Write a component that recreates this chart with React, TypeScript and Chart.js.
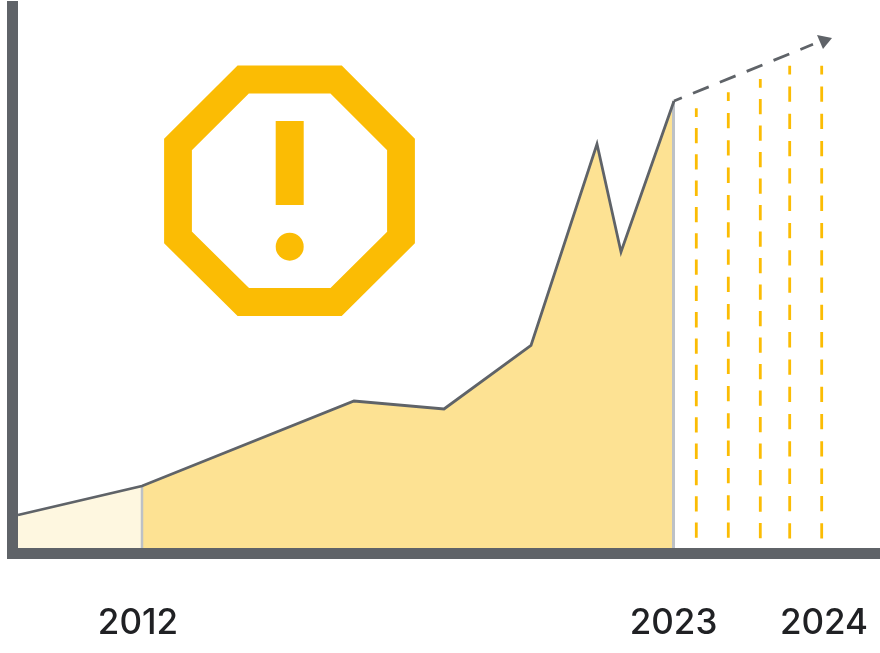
import React, { useEffect, useRef } from "react";
import { Chart, registerables } from "chart.js";

Chart.register(...registerables);

const tickLabels = ["2012", "2023", "2024"];
const tickValues = [138, 673.5, 824];

const trendX = [18, 142, 354, 444, 531, 597, 621, 674];
const trendY = [33, 62, 147, 139, 202.5, 404, 296, 447];

const forecastX = [674, 813];
const forecastY = [447, 503.7];

const arrowX = [817, 832, 823, 817];
const arrowY = [513, 510, 499, 513];

const scenarioX = [696.3, 728.3, 760.3, 789.7, 821.7];
const scenarioTop = [439.7, 455.7, 469, 482.3, 482.3];
const scenarioBottom = 9.5;
const scenarioGap = [11, 12, 11.2, 12, 12];

const yearMarkerX = [142, 673.5];
const yearMarkerTop = [62, 447];

const axisLeftX = [12.5, 12.5];
const axisLeftY = [-11, 547];
const axisBottomX = [7, 880];
const axisBottomY = [-5.5, -5.5];

const octagonX = [290, 336, 401, 401, 336, 243.3, 178, 178, 243.3, 290];
const octagonY = [468.5, 468.5, 403.5, 310.5, 246, 246, 310.5, 403.5, 468.5, 468.5];
const barX = [289.7, 289.7];
const barY = [427, 343];
const dotX = [289.7];
const dotY = [301.3];

const GREY = "#5f6368";
const AMBER = "#fbbc04";

const pts = (xs: number[], ys: number[]) => xs.map((x, i) => ({ x, y: ys[i] }));

export default function App() {
  const ref = useRef<HTMLCanvasElement | null>(null);

  useEffect(() => {
    if (!ref.current) return;
    const line = { pointRadius: 0, tension: 0, fill: false, borderJoinStyle: "miter" as const, borderCapStyle: "butt" as const };
    const chart = new Chart(ref.current, {
      type: "line",
      data: {
        datasets: [
          { label: "axis y", data: pts(axisLeftX, axisLeftY), borderColor: GREY, borderWidth: 11, ...line },
          { label: "axis x", data: pts(axisBottomX, axisBottomY), borderColor: GREY, borderWidth: 11, ...line },
          { label: "warning dot", data: pts(dotX, dotY), showLine: false, pointRadius: 14, pointBorderWidth: 0, pointBackgroundColor: AMBER },
          { label: "warning bar", data: pts(barX, barY), borderColor: AMBER, borderWidth: 28, ...line },
          { label: "warning ring", data: pts(octagonX, octagonY), borderColor: AMBER, borderWidth: 27.8, ...line },
          { label: "arrow", data: pts(arrowX, arrowY), backgroundColor: GREY, borderWidth: 0, pointRadius: 0, tension: 0, fill: "shape" },
          { label: "forecast", data: pts(forecastX, forecastY), borderColor: GREY, borderWidth: 2.8, borderDash: [17, 12], borderDashOffset: 8.5, ...line },
          { label: "trend", data: pts(trendX, trendY), borderColor: GREY, borderWidth: 2.8, ...line },
          ...yearMarkerX.map((x, i) => ({
            label: "year " + i,
            data: pts([x, x], [0, yearMarkerTop[i]]),
            borderColor: "#bdc1c6",
            borderWidth: i === 0 ? 2.5 : 3,
            ...line,
          })),
          ...scenarioX.map((x, i) => ({
            label: "scenario " + i,
            data: pts([x, x], [scenarioTop[i], scenarioBottom]),
            borderColor: AMBER,
            borderWidth: 2.8,
            borderDash: [15.3, scenarioGap[i]],
            borderDashOffset: 6.6,
            ...line,
          })),
          { label: "history", data: pts(trendX.slice(1), trendY.slice(1)), backgroundColor: "#fde293", borderWidth: 0, pointRadius: 0, tension: 0, fill: { value: 0 } },
          { label: "early", data: pts(trendX.slice(0, 2), trendY.slice(0, 2)), backgroundColor: "#fef7e0", borderWidth: 0, pointRadius: 0, tension: 0, fill: { value: 0 } },
        ] as any,
      },
      options: {
        animation: false,
        responsive: false,
        parsing: false,
        normalized: true,
        layout: { padding: 0, autoPadding: false },
        plugins: { legend: { display: false }, tooltip: { enabled: false }, title: { display: false } },
        scales: {
          x: {
            type: "linear",
            min: 0,
            max: 880,
            grid: { display: false },
            border: { display: false },
            afterBuildTicks: (axis: any) => {
              axis.ticks = tickValues.map((value) => ({ value }));
            },
            afterFit: (axis: any) => {
              axis.height = 94;
              axis.paddingLeft = 0;
              axis.paddingRight = 0;
            },
            ticks: {
              autoSkip: false,
              maxRotation: 0,
              padding: 35,
              color: "#202124",
              font: { family: "Inter", size: 35, weight: 500 },
              callback: (_v: any, i: number) => tickLabels[i],
            },
          },
          y: { type: "linear", display: false, min: -11, max: 548 },
        },
      } as any,
    });
    return () => chart.destroy();
  }, []);

  return <canvas ref={ref} width={880} height={653} style={{ position: "absolute", left: 0, top: 0, display: "block" }} />;
}
